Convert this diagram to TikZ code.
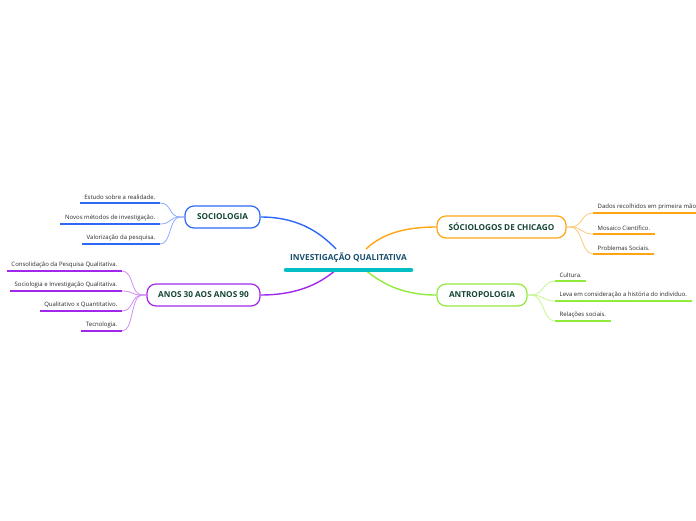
\documentclass[tikz,border=0pt]{standalone}
\usepackage{fontspec}
\setmainfont{Open Sans}
\definecolor{cblue}{RGB}{45,105,245}
\definecolor{cbluel}{RGB}{140,170,255}
\definecolor{cpurp}{RGB}{160,40,235}
\definecolor{cpurpl}{RGB}{210,140,245}
\definecolor{corg}{RGB}{255,165,20}
\definecolor{corgl}{RGB}{255,200,120}
\definecolor{cgrn}{RGB}{145,235,60}
\definecolor{cgrnl}{RGB}{195,245,145}
\definecolor{cteal}{RGB}{0,190,195}
\definecolor{ctitle}{RGB}{20,70,50}
\definecolor{ccenter}{RGB}{25,80,110}
\definecolor{ctext}{RGB}{40,40,40}
\tikzset{
  mainbox/.style={draw, line width=1.2pt, rounded corners=9pt, fill=white, minimum height=22pt, inner sep=0pt, text=ctitle, font=\fontsize{8.2}{10}\selectfont\bfseries},
  item/.style={inner xsep=4.5pt, inner ysep=3pt, text=ctext, font=\fontsize{6}{7}\selectfont},
  ul/.style={line width=1.6pt},
  mainline/.style={line width=1.4pt},
  subline/.style={line width=0.8pt},
}
\begin{document}
\begin{tikzpicture}[x=1pt,y=-1pt]
\useasboundingbox (0,0) rectangle (696,520);
% central topic
\node[text=ccenter, font=\fontsize{8.3}{10}\selectfont\bfseries] (c) at (348.5,258) {INVESTIGAÇÃO QUALITATIVA};
\coordinate (barL) at (286,270);
\coordinate (barR) at (411,270);
\coordinate (cNW) at (336,249);
\coordinate (cNE) at (366,249);
\coordinate (cSW) at (337,269);
\coordinate (cSE) at (364,269);
% main boxes
\node[mainbox, draw=cblue, minimum width=75pt] (soc) at (222.5,217) {SOCIOLOGIA};
\node[mainbox, draw=cpurp, minimum width=113pt] (anos) at (203.5,295) {ANOS 30 AOS ANOS 90};
\node[mainbox, draw=corg, minimum width=129pt] (chi) at (501.5,227) {SÓCIOLOGOS DE CHICAGO};
\node[mainbox, draw=cgrn, minimum width=90pt] (ant) at (482,295) {ANTROPOLOGIA};
% main connectors
\draw[mainline, cblue] (soc.east) .. controls (295,217) and (318,230) .. (cNW);
\draw[mainline, cpurp] (anos.east) .. controls (300,295) and (322,282) .. (cSW);
\draw[mainline, corg] (chi.west) .. controls (400,227) and (380,236) .. (cNE);
\draw[mainline, cgrn] (ant.west) .. controls (400,295) and (380,282) .. (cSE);
\draw[line width=4.5pt, line cap=round, cteal] (barL) -- (barR);
% SOCIOLOGIA items
\node[item, anchor=south east] (s1) at (160,203) {Estudo sobre a realidade.};
\node[item, anchor=south east] (s2) at (160,224) {Novos métodos de investigação.};
\node[item, anchor=south east] (s3) at (160,244) {Valorização da pesquisa.};
\foreach \n in {s1,s2,s3}{
  \draw[ul, cblue] (\n.south west) -- (\n.south east);
  \draw[subline, cbluel] (soc.west) -- ++(-4,0) .. controls +(-12,0) and +(12,0) .. (\n.south east);
}
% ANOS items
\node[item, anchor=south east] (a1) at (122,271) {Consolidação da Pesquisa Qualitativa.};
\node[item, anchor=south east] (a2) at (122,291) {Sociologia e Investigação Qualitativa.};
\node[item, anchor=south east] (a3) at (122,311) {Qualitativo x Quantitativo.};
\node[item, anchor=south east] (a4) at (122,331) {Tecnologia.};
\foreach \n in {a1,a2,a3,a4}{
  \draw[ul, cpurp] (\n.south west) -- (\n.south east);
  \draw[subline, cpurpl] (anos.west) -- ++(-4,0) .. controls +(-12,0) and +(12,0) .. (\n.south east);
}
% CHICAGO items
\node[item, anchor=south west] (h1) at (593,213) {Dados recolhidos em primeira mão};
\node[item, anchor=south west] (h2) at (593,234) {Mosaico Científico.};
\node[item, anchor=south west] (h3) at (593,254) {Problemas Sociais.};
\coordinate (h1end) at (696,213);
\draw[ul, corg] (h1.south west) -- (h1end);
\draw[ul, corg] (h2.south west) -- (h2.south east);
\draw[ul, corg] (h3.south west) -- (h3.south east);
\foreach \n in {h1,h2,h3}{
  \draw[subline, corgl] (chi.east) -- ++(4,0) .. controls +(12,0) and +(-12,0) .. (\n.south west);
}
% ANTROPOLOGIA items
\node[item, anchor=south west] (t1) at (555,281) {Cultura.};
\node[item, anchor=south west] (t2) at (555,301) {Leva em consideração a história do indivíduo.};
\node[item, anchor=south west] (t3) at (555,321) {Relações sociais.};
\foreach \n in {t1,t2,t3}{
  \draw[ul, cgrn] (\n.south west) -- (\n.south east);
  \draw[subline, cgrnl] (ant.east) -- ++(4,0) .. controls +(12,0) and +(-12,0) .. (\n.south west);
}
\end{tikzpicture}
\end{document}
